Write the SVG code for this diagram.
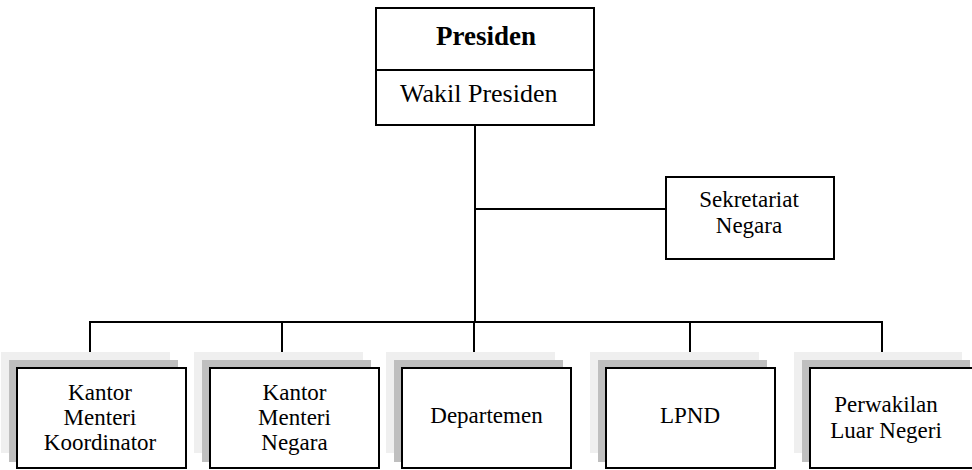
<svg xmlns="http://www.w3.org/2000/svg" width="972" height="470" viewBox="0 0 972 470">
<style>
.box{fill:#ffffff;stroke:#000000;stroke-width:2}
.sh1{fill:#efefef}
.sh2{fill:#bfbfbf}
.ln{fill:none;stroke:#000000;stroke-width:2}
.s{font-family:"Liberation Serif","Times New Roman",serif;fill:#000000}
.t{font-family:"Liberation Serif","Times New Roman",serif;font-size:23px;text-anchor:middle;fill:#000000}
</style>
<rect width="972" height="470" fill="#ffffff"/>
<g id="connectors">
<line class="ln" x1="475" y1="125" x2="475" y2="322"/>
<line class="ln" x1="475" y1="209" x2="666" y2="209"/>
<polyline class="ln" points="90,368 90,322 882,322 882,368"/>
<line class="ln" x1="282" y1="322" x2="282" y2="368"/>
<line class="ln" x1="474" y1="322" x2="474" y2="368"/>
<line class="ln" x1="690" y1="322" x2="690" y2="368"/>
</g>
<g id="presiden">
<rect class="box" x="376" y="8" width="218" height="117"/>
<line class="ln" x1="376" y1="70" x2="594" y2="70"/>
<text class="s" x="486" y="45" font-size="27" font-weight="bold" text-anchor="middle">Presiden</text>
<text class="s" x="400" y="102" font-size="26">Wakil Presiden</text>
</g>
<g id="sekretariat">
<rect class="box" x="666" y="177" width="168" height="82"/>
<text class="t" x="749" y="207">Sekretariat</text>
<text class="t" x="749" y="233">Negara</text>
</g>
<g id="kmk">
<rect class="sh1" x="1" y="352" width="169" height="101"/>
<rect class="sh2" x="9" y="360" width="169" height="102"/>
<rect class="box" x="17" y="368" width="169" height="100"/>
<text class="t" x="100" y="400">Kantor</text>
<text class="t" x="100" y="425">Menteri</text>
<text class="t" x="100" y="450">Koordinator</text>
</g>
<g id="kmn">
<rect class="sh1" x="194" y="352" width="169" height="101"/>
<rect class="sh2" x="202" y="360" width="169" height="102"/>
<rect class="box" x="210" y="368" width="169" height="100"/>
<text class="t" x="294.5" y="400">Kantor</text>
<text class="t" x="294.5" y="425">Menteri</text>
<text class="t" x="294.5" y="450">Negara</text>
</g>
<g id="departemen">
<rect class="sh1" x="386" y="352" width="169" height="101"/>
<rect class="sh2" x="394" y="360" width="169" height="102"/>
<rect class="box" x="402" y="368" width="169" height="100"/>
<text class="t" x="486.5" y="423">Departemen</text>
</g>
<g id="lpnd">
<rect class="sh1" x="590" y="352" width="169" height="101"/>
<rect class="sh2" x="598" y="360" width="169" height="102"/>
<rect class="box" x="606" y="368" width="169" height="100"/>
<text class="t" x="690" y="423">LPND</text>
</g>
<g id="perwakilan">
<rect class="sh1" x="794" y="352" width="168" height="101"/>
<rect class="sh2" x="802" y="360" width="168" height="102"/>
<rect class="box" x="810" y="368" width="169" height="100"/>
<text class="t" x="886" y="412">Perwakilan</text>
<text class="t" x="886" y="438">Luar Negeri</text>
</g>
</svg>
